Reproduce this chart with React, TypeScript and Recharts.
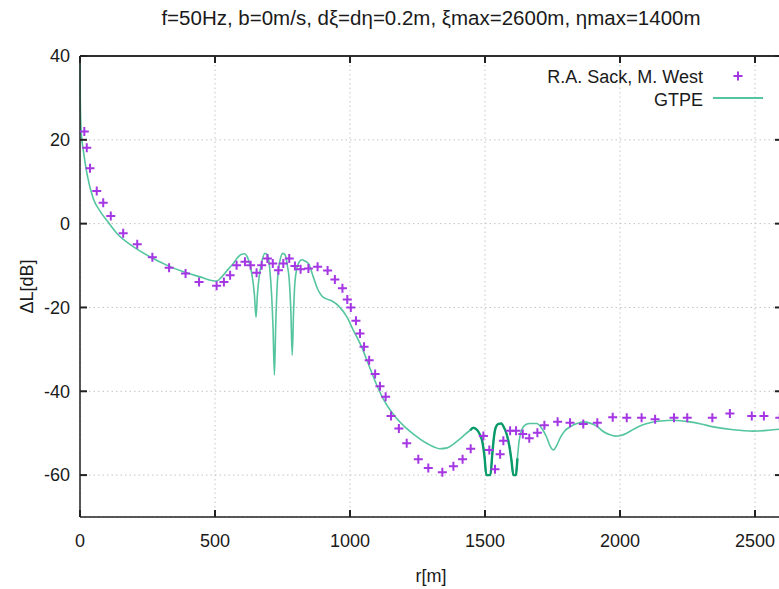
import React from 'react';
import { ComposedChart, Line, Scatter, XAxis, YAxis, CartesianGrid, Legend, ReferenceLine } from 'recharts';

const titleText = 'f=50Hz, b=0m/s, dξ=dη=0.2m, ξmax=2600m, ηmax=1400m';
const sackName = 'R.A. Sack, M. West';
const gtpeName = 'GTPE';
const xLabel = 'r[m]';
const yLabel = 'ΔL[dB]';

const xDomain = [0, 2600];
const yDomain = [-70, 40];
const xTicks = [0, 500, 1000, 1500, 2000, 2500];
const yTicks = [-60, -40, -20, 0, 20, 40];

const sackR = [16, 25, 37, 62, 86, 114, 160, 212, 268, 330, 391, 441, 506, 533, 556, 580, 611, 632, 654, 673, 694, 714, 735, 753, 775, 796, 817, 846, 880, 917, 944, 972, 990, 1003, 1022, 1037, 1052, 1071, 1093, 1111, 1132, 1152, 1181, 1210, 1253, 1290, 1342, 1383, 1417, 1447, 1494, 1516, 1537, 1556, 1568, 1593, 1615, 1640, 1664, 1694, 1720, 1769, 1815, 1864, 1916, 1973, 2025, 2080, 2130, 2200, 2249, 2342, 2407, 2488, 2533, 2592];
const sackDb = [22, 18.1, 13.2, 7.8, 5.0, 1.8, -2.3, -4.9, -8.0, -10.5, -11.9, -13.9, -14.8, -13.9, -12.3, -9.9, -9.1, -9.9, -11.7, -9.9, -8.3, -9.5, -11.1, -9.5, -8.3, -10.1, -10.9, -10.7, -10.3, -11.2, -13.3, -15.4, -18.1, -20.0, -23.2, -26.2, -29.4, -32.6, -35.9, -38.8, -41.3, -45.9, -48.9, -52.4, -56.2, -58.3, -59.3, -57.9, -56.2, -53.7, -50.7, -54.0, -58.6, -55.0, -51.8, -49.4, -49.4, -50.2, -51.2, -49.9, -48.1, -47.3, -47.5, -47.8, -47.5, -46.2, -46.3, -46.3, -46.7, -46.3, -46.3, -46.3, -45.3, -45.9, -45.9, -46.3];

const gtpeR = [0, 1, 3, 6, 12, 27, 49, 74, 99, 136, 197, 259, 321, 383, 444, 506, 525, 550, 568, 585, 599, 610, 620, 630, 640, 646, 652, 657, 663, 672, 685, 695, 703, 710, 715, 720, 725, 731, 740, 751, 760, 768, 775, 781, 786, 791, 796, 804, 812, 820, 827, 846, 864, 880, 895, 910, 932, 960, 988, 1012, 1043, 1074, 1099, 1123, 1150, 1173, 1205, 1235, 1284, 1333, 1360, 1383, 1405, 1426, 1445, 1457, 1470, 1480, 1490, 1498, 1505, 1520, 1527, 1533, 1540, 1550, 1560, 1570, 1580, 1590, 1598, 1605, 1614, 1620, 1626, 1636, 1650, 1667, 1691, 1710, 1728, 1742, 1753, 1765, 1778, 1795, 1815, 1840, 1864, 1889, 1914, 1938, 1963, 1985, 2000, 2025, 2049, 2080, 2111, 2150, 2198, 2259, 2300, 2346, 2420, 2494, 2550, 2600];
const gtpeDb = [40, 30, 24, 20.7, 17.6, 11.5, 6.0, 3.0, 0.8, -2.3, -5.5, -7.9, -9.9, -11.5, -12.7, -13.7, -12.7, -10.8, -9.5, -8.0, -7.3, -7.2, -8.0, -10.0, -13.5, -17.0, -22.4, -17.0, -13.0, -9.5, -7.1, -7.5, -11.0, -17.4, -25.0, -36.1, -24.0, -14.0, -9.0, -7.1, -7.5, -10.0, -13.5, -21.0, -31.4, -21.0, -14.0, -10.5, -9.1, -8.6, -8.7, -9.5, -12.7, -15.6, -17.2, -17.9, -18.4, -19.8, -22.2, -25.4, -29.4, -34.5, -38.5, -41.8, -44.6, -46.5, -48.6, -50.2, -52.4, -53.7, -53.5, -52.6, -51.5, -50.3, -49.3, -48.7, -49.2, -50.2, -52.0, -55.5, -60, -60, -55.0, -51.0, -48.6, -47.8, -47.7, -48.6, -50.2, -53.0, -56.5, -60, -60, -56.0, -52.0, -49.2, -48.0, -47.7, -47.7, -48.8, -50.9, -53.2, -54.0, -53.0, -51.2, -49.5, -48.5, -47.7, -47.3, -47.6, -48.3, -49.6, -50.4, -50.7, -50.6, -50.0, -49.1, -48.1, -47.5, -47.1, -46.9, -47.3, -47.8, -48.5, -49.2, -49.5, -49.3, -49.0];

const sackData = sackR.map((r, i) => ({ r, db: sackDb[i] }));
const gtpeData = gtpeR.map((r, i) => ({ r, db: gtpeDb[i] }));
const gtpeDense = gtpeData.filter((p) => p.r >= 1430 && p.r <= 1622);

const FONT = '"Liberation Sans", Arial, sans-serif';
const TXT = '#1a1a1a';
const AX = '#222222';
const PURPLE = '#a436e3';
const TEAL = '#55c5a0';
const TEAL_DARK = '#0b9a6c';

const W = 800;
const H = 589;
const ML = 80;
const MT = 56;
const MR = 18;
const XH = 72;
const TICK = 7;
const PLOT_W = W - ML - MR;

const Plus = (props: any) => {
  const { cx, cy } = props;
  if (cx == null || cy == null) return null;
  return (
    <path d={`M${cx - 4.5},${cy}H${cx + 4.5}M${cx},${cy - 4.5}V${cy + 4.5}`} stroke={PURPLE} strokeWidth={2} fill="none" />
  );
};

const BottomTick = (props: any) => {
  const { x, y, payload } = props;
  return (
    <g>
      <line x1={x} x2={x} y1={y} y2={y - TICK} stroke={AX} strokeWidth={2} />
      <text x={x} y={y + 30} textAnchor="middle" fontFamily={FONT} fontSize={18} fill={TXT}>
        {payload.value}
      </text>
    </g>
  );
};

const LeftTick = (props: any) => {
  const { x, y, payload } = props;
  return (
    <g>
      <line x1={x} x2={x + TICK} y1={y} y2={y} stroke={AX} strokeWidth={2} />
      <text x={x - 10} y={y} dy="0.35em" textAnchor="end" fontFamily={FONT} fontSize={18} fill={TXT}>
        {payload.value}
      </text>
    </g>
  );
};

const TopTickShape = (p: any) => {
  const top = Math.min(p.y1, p.y2);
  return <line x1={p.x1} x2={p.x1} y1={top} y2={top + TICK} stroke={AX} strokeWidth={2} />;
};

const RightTickShape = (p: any) => {
  const right = Math.max(p.x1, p.x2);
  return <line x1={right - TICK} x2={right} y1={p.y1} y2={p.y1} stroke={AX} strokeWidth={2} />;
};

const YLabel = (props: any) => {
  const vb = props.viewBox || { x: 0, y: MT, width: ML, height: 461 };
  const cx = vb.x + 27;
  const cy = vb.y + vb.height / 2;
  return (
    <text x={cx} y={cy} dy="0.35em" transform={`rotate(-90 ${cx} ${cy})`} textAnchor="middle" fontFamily={FONT} fontSize={18} fill={TXT}>
      {yLabel}
    </text>
  );
};

const LegendContent = () => (
  <svg width={W} height={120} style={{ display: 'block', pointerEvents: 'none' }}>
    <text x={ML + PLOT_W / 2} y={25} textAnchor="middle" fontFamily={FONT} fontSize={20.5} fill={TXT}>
      {titleText}
    </text>
    <line x1={ML} x2={ML + PLOT_W} y1={MT} y2={MT} stroke={AX} strokeWidth={1.5} />
    {xTicks.map((t) => {
      const x = ML + ((t - xDomain[0]) / (xDomain[1] - xDomain[0])) * PLOT_W;
      return <line key={t} x1={x} x2={x} y1={MT} y2={MT + TICK} stroke={AX} strokeWidth={2} />;
    })}
    <text x={703} y={83} textAnchor="end" fontFamily={FONT} fontSize={18} fill={TXT}>
      {sackName}
    </text>
    <path d="M733.5,76H742.5M738,71.5V80.5" stroke={PURPLE} strokeWidth={2} />
    <text x={703} y={106} textAnchor="end" fontFamily={FONT} fontSize={18} fill={TXT}>
      {gtpeName}
    </text>
    <line x1={713} x2={763} y1={98} y2={98} stroke={TEAL} strokeWidth={2} />
  </svg>
);

export default function App() {
  return (
    <div style={{ position: 'absolute', left: 0, top: 0, width: 779, height: 589, overflow: 'hidden', background: '#fff' }}>
      <ComposedChart width={W} height={H} margin={{ top: MT, right: MR, bottom: 0, left: 0 }}>
        <CartesianGrid stroke="#c4c4c4" strokeDasharray="1.5 3" strokeWidth={1} />
        <XAxis
          dataKey="r"
          type="number"
          domain={xDomain}
          ticks={xTicks}
          height={XH}
          tickSize={0}
          tickMargin={0}
          tickLine={false}
          tick={<BottomTick />}
          axisLine={{ stroke: AX, strokeWidth: 1.5 }}
          label={{ value: xLabel, position: 'insideBottom', offset: 7, fontSize: 18, fontFamily: FONT, fill: TXT }}
        />
        <YAxis
          type="number"
          domain={yDomain}
          ticks={yTicks}
          width={ML}
          tickSize={0}
          tickMargin={0}
          tickLine={false}
          tick={<LeftTick />}
          axisLine={{ stroke: AX, strokeWidth: 1.5 }}
          label={<YLabel />}
        />
        <ReferenceLine y={40} stroke={AX} strokeWidth={1.5} ifOverflow="visible" />
        <ReferenceLine x={2600} stroke={AX} strokeWidth={1.5} ifOverflow="visible" />
        {xTicks.map((t) => (
          <ReferenceLine key={'tt' + t} x={t} shape={TopTickShape} ifOverflow="visible" />
        ))}
        {yTicks.map((t) => (
          <ReferenceLine key={'rt' + t} y={t} shape={RightTickShape} ifOverflow="visible" />
        ))}
        <Line
          data={gtpeData}
          dataKey="db"
          name={gtpeName}
          type="monotone"
          stroke={TEAL}
          strokeWidth={1.6}
          dot={false}
          activeDot={false}
          isAnimationActive={false}
        />
        <Line
          data={gtpeDense}
          dataKey="db"
          name={gtpeName + ' (dense)'}
          type="monotone"
          stroke={TEAL_DARK}
          strokeWidth={2.4}
          dot={false}
          activeDot={false}
          legendType="none"
          isAnimationActive={false}
        />
        <Scatter data={sackData} dataKey="db" name={sackName} shape={<Plus />} isAnimationActive={false} />
        <Legend
          layout="horizontal"
          verticalAlign="middle"
          align="center"
          content={<LegendContent />}
          wrapperStyle={{ position: 'absolute', left: 0, top: 0, width: W, height: 120, margin: 0 }}
        />
      </ComposedChart>
    </div>
  );
}
